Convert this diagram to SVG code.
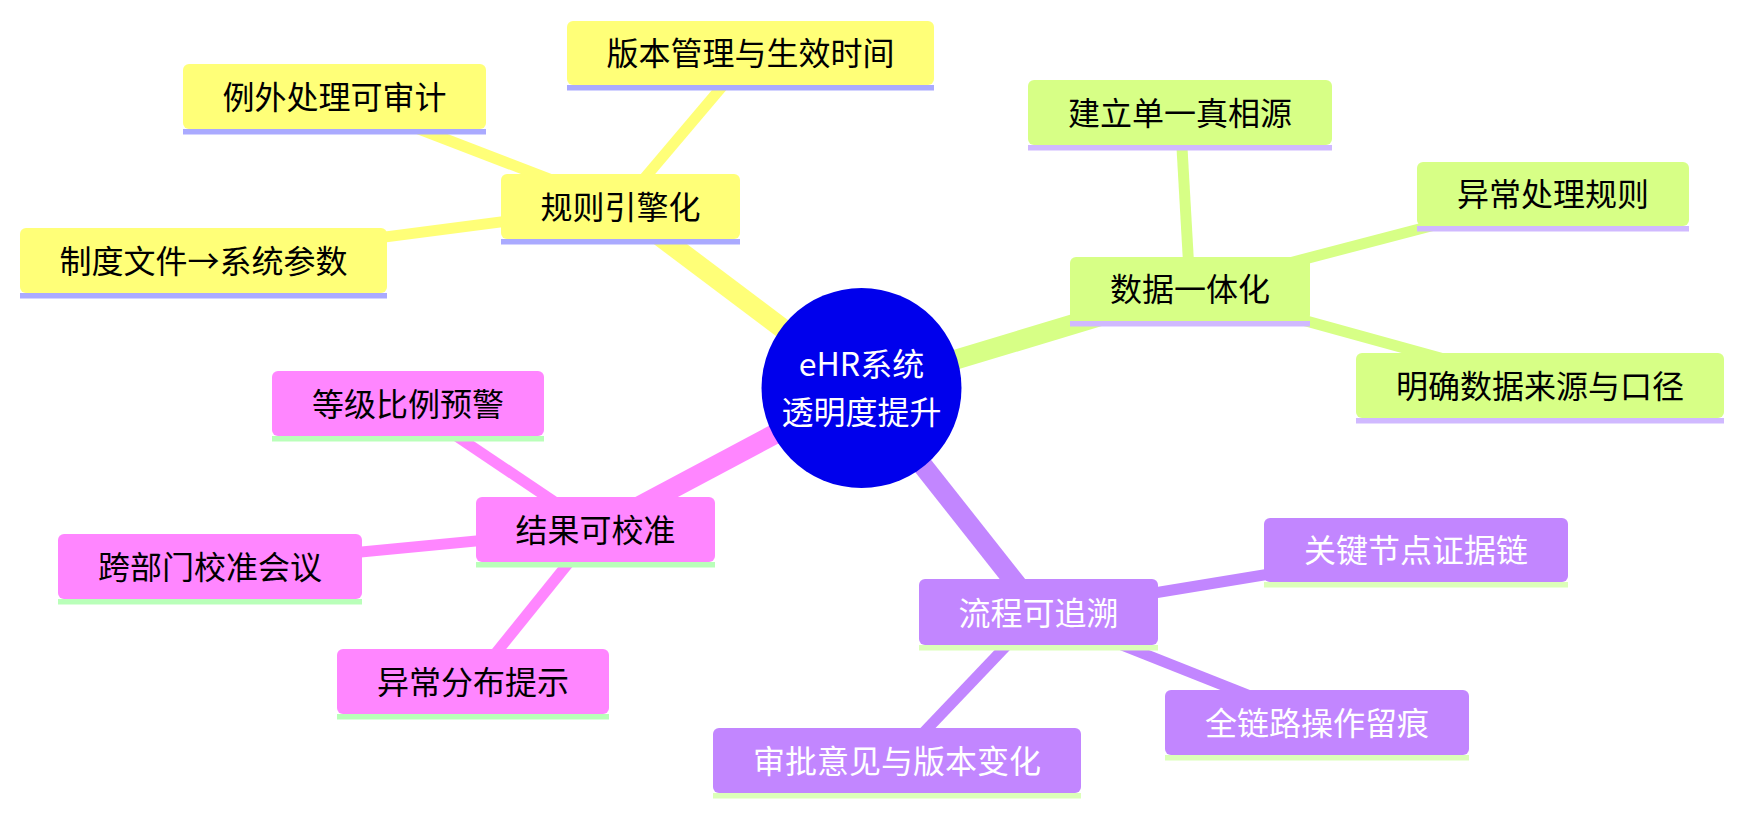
<svg xmlns="http://www.w3.org/2000/svg" width="1743" height="816" viewBox="0 0 1743 816">
<style>
  text { font-family: "Noto Sans CJK SC", "Noto Sans", sans-serif; font-size: 32px; text-anchor: middle; }
  .e1 { stroke-width: 20; fill: none; }
  .e2 { stroke-width: 11; fill: none; }
  .s0 { fill: #ffff78; } .s0e { stroke: #ffff78; } .s0b { fill: #aaaaff; }
  .s1 { fill: #d7ff86; } .s1e { stroke: #d7ff86; } .s1b { fill: #d0b9ff; }
  .s2 { fill: #c286ff; } .s2e { stroke: #c286ff; } .s2b { fill: #dcffb9; }
  .s3 { fill: #ff86ff; } .s3e { stroke: #ff86ff; } .s3b { fill: #b9ffb9; }
  .dark { fill: #000000; }
  .light { fill: #ffffff; }
</style>
<rect x="0" y="0" width="1743" height="816" fill="#ffffff"/>
<g id="connectors">
  <!-- yellow section -->
  <line class="e2 s0e" x1="620.5" y1="206.5" x2="750.5" y2="53"/>
  <line class="e2 s0e" x1="620.5" y1="206.5" x2="334.5" y2="96.5"/>
  <line class="e2 s0e" x1="620.5" y1="206.5" x2="203.5" y2="260.5"/>
  <line class="e1 s0e" x1="861.5" y1="388" x2="620.5" y2="206.5"/>
  <!-- green section -->
  <line class="e2 s1e" x1="1190" y1="289" x2="1180" y2="112.5"/>
  <line class="e2 s1e" x1="1190" y1="289" x2="1553" y2="194"/>
  <line class="e2 s1e" x1="1190" y1="289" x2="1540" y2="385.5"/>
  <line class="e1 s1e" x1="861.5" y1="388" x2="1190" y2="289"/>
  <!-- purple section -->
  <line class="e2 s2e" x1="1038.5" y1="612" x2="1416" y2="550"/>
  <line class="e2 s2e" x1="1038.5" y1="612" x2="1317" y2="722.5"/>
  <line class="e2 s2e" x1="1038.5" y1="612" x2="897" y2="760.5"/>
  <line class="e1 s2e" x1="861.5" y1="388" x2="1038.5" y2="612"/>
  <!-- pink section -->
  <line class="e2 s3e" x1="595.5" y1="529.5" x2="408" y2="403.5"/>
  <line class="e2 s3e" x1="595.5" y1="529.5" x2="210" y2="566.5"/>
  <line class="e2 s3e" x1="595.5" y1="529.5" x2="473" y2="681.5"/>
  <line class="e1 s3e" x1="861.5" y1="388" x2="595.5" y2="529.5"/>
</g>

<g id="root">
  <circle cx="861.5" cy="388" r="100" fill="#0000ec"/>
  <text class="light" x="861.5" y="376">eHR系统</text>
  <text class="light" x="861.5" y="424">透明度提升</text>
</g>

<g id="n-rule">
  <rect class="s0" x="501" y="174" width="239" height="65" rx="6"/>
  <rect class="s0b" x="501" y="239" width="239" height="5.5"/>
  <text class="dark" x="620.5" y="218.5">规则引擎化</text>
</g>
<g id="n-version">
  <rect class="s0" x="567" y="21" width="367" height="64" rx="6"/>
  <rect class="s0b" x="567" y="85" width="367" height="5.5"/>
  <text class="dark" x="750.5" y="65">版本管理与生效时间</text>
</g>
<g id="n-exception">
  <rect class="s0" x="183" y="64" width="303" height="65" rx="6"/>
  <rect class="s0b" x="183" y="129" width="303" height="5.5"/>
  <text class="dark" x="334.5" y="108.5">例外处理可审计</text>
</g>
<g id="n-policy">
  <rect class="s0" x="20" y="228" width="367" height="65" rx="6"/>
  <rect class="s0b" x="20" y="293" width="367" height="5.5"/>
  <text class="dark" x="203.5" y="272.5">制度文件→系统参数</text>
</g>

<g id="n-data">
  <rect class="s1" x="1070" y="257" width="240" height="64" rx="6"/>
  <rect class="s1b" x="1070" y="321" width="240" height="5.5"/>
  <text class="dark" x="1190" y="301">数据一体化</text>
</g>
<g id="n-source">
  <rect class="s1" x="1028" y="80" width="304" height="65" rx="6"/>
  <rect class="s1b" x="1028" y="145" width="304" height="5.5"/>
  <text class="dark" x="1180" y="124.5">建立单一真相源</text>
</g>
<g id="n-anomaly-rule">
  <rect class="s1" x="1417" y="162" width="272" height="64" rx="6"/>
  <rect class="s1b" x="1417" y="226" width="272" height="5.5"/>
  <text class="dark" x="1553" y="206">异常处理规则</text>
</g>
<g id="n-caliber">
  <rect class="s1" x="1356" y="353" width="368" height="65" rx="6"/>
  <rect class="s1b" x="1356" y="418" width="368" height="5.5"/>
  <text class="dark" x="1540" y="397.5">明确数据来源与口径</text>
</g>

<g id="n-trace">
  <rect class="s2" x="919" y="579" width="239" height="66" rx="6"/>
  <rect class="s2b" x="919" y="645" width="239" height="5.5"/>
  <text class="light" x="1038.5" y="624.5">流程可追溯</text>
</g>
<g id="n-evidence">
  <rect class="s2" x="1264" y="518" width="304" height="64" rx="6"/>
  <rect class="s2b" x="1264" y="582" width="304" height="5.5"/>
  <text class="light" x="1416" y="562">关键节点证据链</text>
</g>
<g id="n-log">
  <rect class="s2" x="1165" y="690" width="304" height="65" rx="6"/>
  <rect class="s2b" x="1165" y="755" width="304" height="5.5"/>
  <text class="light" x="1317" y="734.5">全链路操作留痕</text>
</g>
<g id="n-approval">
  <rect class="s2" x="713" y="728" width="368" height="65" rx="6"/>
  <rect class="s2b" x="713" y="793" width="368" height="5.5"/>
  <text class="light" x="897" y="772.5">审批意见与版本变化</text>
</g>

<g id="n-calibrate">
  <rect class="s3" x="476" y="497" width="239" height="65" rx="6"/>
  <rect class="s3b" x="476" y="562" width="239" height="5.5"/>
  <text class="dark" x="595.5" y="541.5">结果可校准</text>
</g>
<g id="n-ratio">
  <rect class="s3" x="272" y="371" width="272" height="65" rx="6"/>
  <rect class="s3b" x="272" y="436" width="272" height="5.5"/>
  <text class="dark" x="408" y="415.5">等级比例预警</text>
</g>
<g id="n-meeting">
  <rect class="s3" x="58" y="534" width="304" height="65" rx="6"/>
  <rect class="s3b" x="58" y="599" width="304" height="5.5"/>
  <text class="dark" x="210" y="578.5">跨部门校准会议</text>
</g>
<g id="n-distribution">
  <rect class="s3" x="337" y="649" width="272" height="65" rx="6"/>
  <rect class="s3b" x="337" y="714" width="272" height="5.5"/>
  <text class="dark" x="473" y="693.5">异常分布提示</text>
</g>
</svg>
